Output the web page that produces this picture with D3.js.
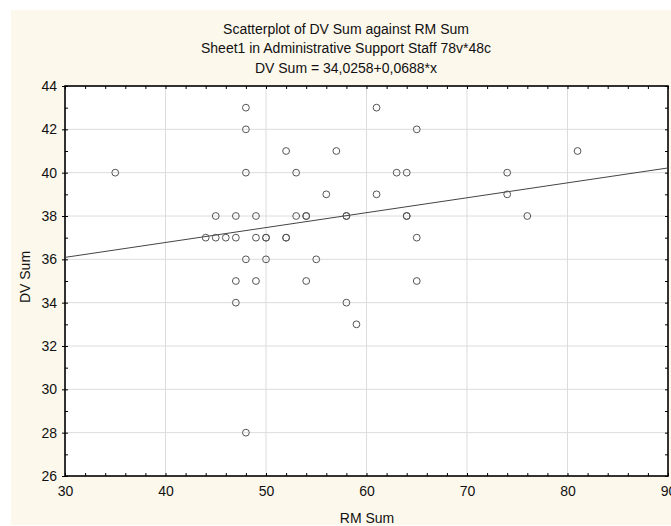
<!DOCTYPE html>
<html>
<head>
<meta charset="utf-8">
<script src="https://cdn.jsdelivr.net/npm/d3@7"></script>
<style>
  body { margin: 0; background: #fff; }
  text { font-family: "Liberation Sans", Arial, sans-serif; fill: #111; }
</style>
</head>
<body>
<script>
var w = 671;
var h = 526;

// data (RM Sum, DV Sum), duplicates kept
var rmSum = [35,
    45, 47, 49, 53, 54, 54, 58, 58, 64, 64, 76,
    44, 45, 46, 47, 49, 50, 50, 52, 52, 65,
    48, 61,
    48, 65,
    52, 57, 81,
    48, 53, 63, 64, 74,
    56, 61, 74,
    48, 50, 55,
    47, 49, 54, 65,
    47, 58,
    59,
    48];
var dvSum = [40,
    38, 38, 38, 38, 38, 38, 38, 38, 38, 38, 38,
    37, 37, 37, 37, 37, 37, 37, 37, 37, 37,
    43, 43,
    42, 42,
    41, 41, 41,
    40, 40, 40, 40, 40,
    39, 39, 39,
    36, 36, 36,
    35, 35, 35, 35,
    34, 34,
    33,
    28];

var xTicks = [30, 40, 50, 60, 70, 80, 90];
var yTicks = [26, 28, 30, 32, 34, 36, 38, 40, 42, 44];
var titleLines = ["Scatterplot of DV Sum against RM Sum",
    "Sheet1 in Administrative Support Staff 78v*48c",
    "DV Sum = 34,0258+0,0688*x"];
var fitA = 34.0258, fitB = 0.0688;

var pLeft = 65, pRight = 668, pTop = 86, pBottom = 476;

var xScale = d3.scaleLinear().domain([30, 90]).range([pLeft, pRight]);
var yScale = d3.scaleLinear().domain([26, 44]).range([pBottom, pTop]);

var svg = d3.select("body")
    .append("svg")
    .attr("width", w)
    .attr("height", h);

// cream backdrop
svg.append("rect")
    .attr("x", 11).attr("y", 10)
    .attr("width", w - 11).attr("height", h - 11)
    .attr("fill", "#fdf8ec");

svg.append("rect")
    .attr("x", pLeft).attr("y", pTop)
    .attr("width", pRight - pLeft).attr("height", pBottom - pTop)
    .attr("fill", "#fff");

// grid
svg.selectAll("line.gx")
    .data(xTicks.slice(1, -1))
    .enter().append("line")
    .attr("x1", function(d) { return xScale(d); })
    .attr("x2", function(d) { return xScale(d); })
    .attr("y1", pTop).attr("y2", pBottom)
    .attr("stroke", "#dcdcdc");

svg.selectAll("line.gy")
    .data(yTicks.slice(1, -1))
    .enter().append("line")
    .attr("y1", function(d) { return yScale(d); })
    .attr("y2", function(d) { return yScale(d); })
    .attr("x1", pLeft).attr("x2", pRight)
    .attr("stroke", "#dcdcdc");

// minor ticks on all four sides
var xMinor = d3.range(30, 91, 2);
var yMinor = d3.range(26, 45, 1);

svg.append("g")
    .attr("transform", "translate(0," + pBottom + ")")
    .call(d3.axisTop(xScale).tickValues(xMinor).tickSize(3).tickFormat(""))
    .call(function(g) { g.select(".domain").remove(); });
svg.append("g")
    .attr("transform", "translate(0," + pTop + ")")
    .call(d3.axisBottom(xScale).tickValues(xMinor).tickSize(3).tickFormat(""))
    .call(function(g) { g.select(".domain").remove(); });
svg.append("g")
    .attr("transform", "translate(" + pLeft + ",0)")
    .call(d3.axisRight(yScale).tickValues(yMinor).tickSize(3).tickFormat(""))
    .call(function(g) { g.select(".domain").remove(); });
svg.append("g")
    .attr("transform", "translate(" + pRight + ",0)")
    .call(d3.axisLeft(yScale).tickValues(yMinor).tickSize(3).tickFormat(""))
    .call(function(g) { g.select(".domain").remove(); });

// labelled axes
var xAxis = d3.axisBottom(xScale).tickValues(xTicks).tickSize(0).tickPadding(10);
var yAxis = d3.axisLeft(yScale).tickValues(yTicks).tickSize(3).tickPadding(5);

svg.append("g")
    .attr("transform", "translate(0," + pBottom + ")")
    .call(xAxis)
    .call(function(g) { g.select(".domain").remove(); })
    .selectAll("text").style("font-size", "14px").attr("fill", "#111");

svg.append("g")
    .attr("transform", "translate(" + pLeft + ",0)")
    .call(yAxis)
    .call(function(g) { g.select(".domain").remove(); })
    .selectAll("text").style("font-size", "14px").attr("fill", "#111");

// frame
svg.append("rect")
    .attr("x", pLeft).attr("y", pTop)
    .attr("width", pRight - pLeft).attr("height", pBottom - pTop)
    .attr("fill", "none")
    .attr("stroke", "#000")
    .attr("stroke-width", 1.6);

// fit line
svg.append("line")
    .attr("x1", xScale(30)).attr("y1", yScale(fitA + fitB * 30))
    .attr("x2", xScale(90)).attr("y2", yScale(fitA + fitB * 90))
    .attr("stroke", "#444")
    .attr("stroke-width", 1);

// points
svg.selectAll("circle")
    .data(rmSum)
    .enter()
    .append("circle")
    .attr("cx", function(d) { return xScale(d); })
    .attr("cy", function(d, i) { return yScale(dvSum[i]); })
    .attr("r", 3.4)
    .attr("fill", "none")
    .attr("stroke", "#555")
    .attr("stroke-width", 1);

// titles
svg.selectAll("text.title")
    .data(titleLines)
    .enter().append("text")
    .attr("class", "title")
    .attr("text-anchor", "middle")
    .attr("x", 346)
    .attr("y", function(d, i) { return 33.5 + i * 19.5; })
    .style("font-size", "14px")
    .text(function(d) { return d; });

// X axis label
svg.append("text")
    .attr("text-anchor", "middle")
    .attr("x", 367)
    .attr("y", 523)
    .text("RM Sum")
    .style("font-size", "14px");

// Y axis label
svg.append("text")
    .attr("text-anchor", "middle")
    .attr("transform", "rotate(-90)")
    .attr("y", 30)
    .attr("x", -277)
    .text("DV Sum")
    .style("font-size", "14px");
</script>
</body>
</html>
